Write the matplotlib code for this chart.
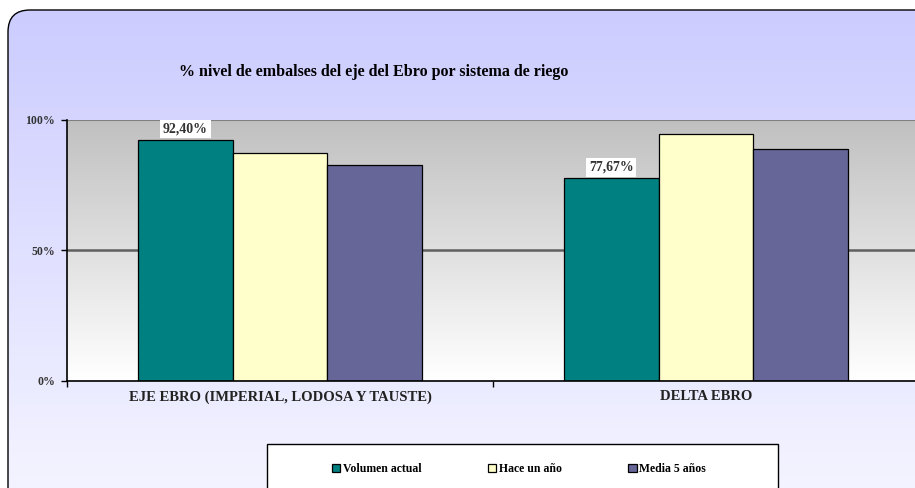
import numpy as np
import matplotlib
matplotlib.use("Agg")
import matplotlib.pyplot as plt
from matplotlib.patches import FancyBboxPatch, Rectangle
from matplotlib.colors import LinearSegmentedColormap

categories = ["EJE EBRO (IMPERIAL, LODOSA Y TAUSTE)", "DELTA EBRO"]
series_names = ["Volumen actual", "Hace un año", "Media 5 años"]
volumen_actual = [92.40, 77.67]
hace_un_ano = [87.2, 94.5]
media_5_anos = [82.6, 88.9]
labels_actual = ["92,40%", "77,67%"]
yticks = [0, 50, 100]
ytick_labels = ["0%", "50%", "100%"]
title = "% nivel de embalses del eje del Ebro por sistema de riego"

colors = ["#008080", "#FFFFCC", "#666699"]
W, H = 915, 488
fig = plt.figure(figsize=(W / 100, H / 100), dpi=100)
fig.patch.set_facecolor("white")
serif = "Liberation Serif"

# chart background with gradient inside rounded rectangle
bg = fig.add_axes([0, 0, 1, 1])
bg.set_xlim(0, W)
bg.set_ylim(H, 0)
bg.axis("off")
frame = FancyBboxPatch((8, 10), W + 40, H + 40, boxstyle="round,pad=0,rounding_size=22",
                       facecolor="none", edgecolor="black", linewidth=1.0, zorder=3)
bg.add_patch(frame)
cm_bg = LinearSegmentedColormap.from_list("bg", ["#CCCCFF", "#F8F8FF"])
grad = np.linspace(0, 1, 256).reshape(-1, 1)
im = bg.imshow(grad, cmap=cm_bg, extent=[8, W + 48, H + 50, 10], aspect="auto", zorder=1)
clip = FancyBboxPatch((8, 10), W + 40, H + 40, boxstyle="round,pad=0,rounding_size=22",
                      transform=bg.transData, facecolor="none", edgecolor="none")
bg.add_patch(clip)
im.set_clip_path(clip)

# legend frame
bg.add_patch(Rectangle((267, 444), 778 - 267, 100, facecolor="white", edgecolor="black",
                       linewidth=1.0, zorder=4))

# plot area
left_px, right_px, top_px, bottom_px = 67, 919, 120, 380.5
ax = fig.add_axes([left_px / W, (H - bottom_px) / H, (right_px - left_px) / W, (bottom_px - top_px) / H])
ax.set_xlim(-0.5, 1.5)
ax.set_ylim(0, 100)
cm_pa = LinearSegmentedColormap.from_list("pa", ["#C0C0C0", "#FFFFFF"])
ax.imshow(grad, cmap=cm_pa, extent=[-0.5, 1.5, 0, 100], aspect="auto", zorder=0)
ax.set_facecolor("none")

x = np.arange(len(categories))
bw = 1 / 4.5
for i, (vals, c) in enumerate(zip([volumen_actual, hace_un_ano, media_5_anos], colors)):
    ax.bar(x + (i - 1) * bw, vals, width=bw, color=c, edgecolor="black", linewidth=0.9,
           zorder=3, label=series_names[i])

ax.axhline(50, color="#606060", linewidth=1.8, zorder=2)
ax.axhline(100, color="#808080", linewidth=1.5, zorder=2)

for xi, v, lab in zip(x, volumen_actual, labels_actual):
    ax.text(xi - bw, v + 1.6, lab, ha="center", va="bottom", fontsize=10, fontweight="bold",
            family=serif, color="#333333",
            bbox=dict(facecolor="white", edgecolor="none", pad=2.0), zorder=4)

for s in ["top", "right"]:
    ax.spines[s].set_visible(False)
ax.spines["left"].set_color("black")
ax.spines["bottom"].set_color("black")
ax.spines["left"].set_linewidth(1.2)
ax.spines["bottom"].set_linewidth(1.2)
ax.spines["left"].set_zorder(5)
ax.spines["bottom"].set_zorder(5)

ax.set_yticks(yticks)
ax.set_yticklabels(ytick_labels, fontsize=8.5, fontweight="bold", family=serif, color="#333333")
ax.tick_params(axis="y", length=4, width=1, direction="out", pad=4.5)
ax.set_xticks([-0.5, 0.5, 1.5])
ax.set_xticklabels([])
ax.tick_params(axis="x", length=4, width=1, direction="out")
for xi, c in zip(x, categories):
    ax.text(xi, -3.8, c, ha="center", va="top", fontsize=10.5, fontweight="bold",
            family=serif, color="#222222", transform=ax.transData)

fig.text(374 / W, (H - 72) / H, title, ha="center", va="center", fontsize=11.5,
         fontweight="bold", family=serif, color="black")

# legend
handles, lbls = ax.get_legend_handles_labels()
leg = fig.legend(handles, lbls, loc="center left", bbox_to_anchor=(332 / W, (H - 469) / H),
                 ncol=3, frameon=False,
                 prop={"family": serif, "weight": "bold", "size": 8.5},
                 handlelength=0.7, handleheight=0.7, handletextpad=0.25, columnspacing=5.6,
                 borderpad=0, borderaxespad=0)
leg.set_zorder(6)

fig.savefig("out.png", dpi=100)
